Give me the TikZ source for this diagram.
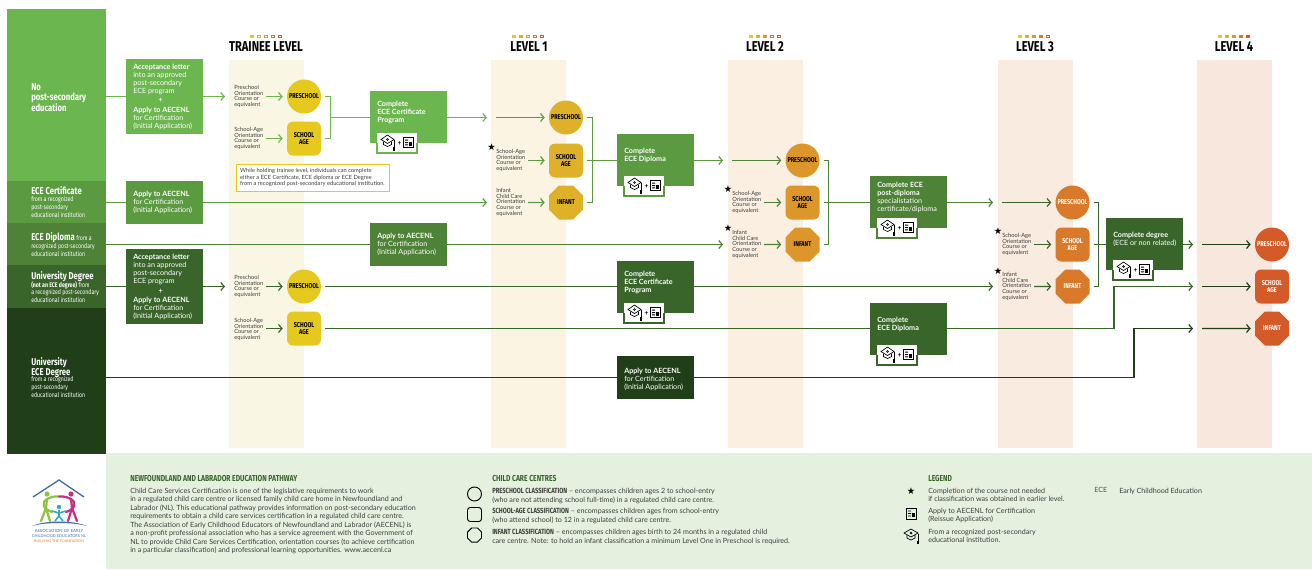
\documentclass[tikz,border=0pt]{standalone}
\usepackage{fontspec}
\setmainfont{Lato}
\newfontfamily\cond[FakeStretch=0.78]{Fira Sans}
\newfontfamily\sym{DejaVu Sans}
\usetikzlibrary{arrows.meta,shapes.geometric}
\definecolor{rowa}{HTML}{6CB64F}
\definecolor{rowb}{HTML}{5C9A42}
\definecolor{rowc}{HTML}{4E8236}
\definecolor{rowd}{HTML}{3A652A}
\definecolor{rowe}{HTML}{203F18}
\definecolor{lvt}{HTML}{E5C91F}
\definecolor{lva}{HTML}{DFB128}
\definecolor{lvb}{HTML}{DC9629}
\definecolor{lvc}{HTML}{D97A2B}
\definecolor{lvd}{HTML}{D45A28}
\definecolor{bdt}{HTML}{F9F6E3}
\definecolor{bda}{HTML}{FBF4E3}
\definecolor{bdb}{HTML}{FAEFE1}
\definecolor{bdc}{HTML}{F9EBDF}
\definecolor{bdd}{HTML}{F8E7DC}
\definecolor{foot}{HTML}{E5F0DF}
\definecolor{inkgrey}{HTML}{3E3E3E}
\definecolor{logob}{HTML}{3F6FA8}
\definecolor{logog}{HTML}{8CC63F}
\definecolor{logop}{HTML}{C8317F}
\definecolor{logoc}{HTML}{35A7C4}
\newcommand\rowbox[6]{\node[rect,fill=#6,minimum width={(#4-#2)*0.75pt},minimum height={(#5-#3)*0.75pt}] (#1) at ({(#2+#4)/2},{(#3+#5)/2}) {};}
\newcommand\lvhead[3]{\node[title] (#1) at (#2,47) {#3};}
\newcommand\lvdots[2]{%
 \foreach \i/\cc in {0/lvt,1/lva,2/lvb,3/lvc,4/lvd}{
  \pgfmathtruncatemacro\ff{\i<#2 ? 1 : 0}
  \ifnum\ff=1 \fill[\cc] ({#1+\i*7-1.7},34.8) rectangle ++(3.4,3.4);
  \else \draw[\cc,line width=.7pt,fill=white] ({#1+\i*7-1.3},35.2) rectangle ++(2.6,2.6);\fi}}
\newcommand\capdoc[2]{%
 \begin{scope}[shift={(#1,#2)}]
 \fill[white] (-20,-10) rectangle (20,10);
 \draw[line width=.5pt] (-16,-3.5) -- (-9.5,-8) -- (-3,-3.5) -- (-9.5,.5) -- cycle;
 \draw[line width=.5pt] (-13.5,-1.5) -- (-13.5,1.5) -- (-9.5,3.5) -- (-5.5,1.5) -- (-5.5,-1.5);
 \draw[line width=.5pt] (-9.5,-3.5) circle (1);
 \draw[line width=.6pt] (-3,-3) -- (-3,4);
 \fill (-4.2,4) rectangle (-1.8,7.5);
 \node[font=\fontsize{5}{5}\selectfont\bfseries,inner sep=0] at (2.5,.5) {+};
 \draw[line width=.7pt] (6.5,-5.5) rectangle (16,4);
 \fill (8,-3.5) rectangle (11,-2.5) (8,-1) rectangle (11,0) (8,1.3) rectangle (11,2.3);
 \fill (12,-1.5) rectangle (15,2.5);
 \end{scope}}
\tikzset{
 rect/.style={draw=none,inner sep=0,outer sep=0,rectangle},
 title/.style={font=\cond\bfseries\fontsize{10.7}{10.7}\selectfont,text=black,inner sep=0},
 wt/.style={text=white,inner sep=0,anchor=north west,align=left,font=\fontsize{5.4}{6}\selectfont},
 wsub/.style={wt,font=\cond\fontsize{5}{5.9}\selectfont},
 lhd/.style={text=white,inner sep=0,anchor=north west,align=left,font=\cond\bfseries\fontsize{7.4}{7.5}\selectfont},
 crs/.style={text=inkgrey,inner sep=0,anchor=north west,align=left,font=\fontsize{4.3}{4.3}\selectfont},
 foottx/.style={text=inkgrey,inner sep=0,anchor=north west,align=left,font=\fontsize{5.35}{6.4}\selectfont},
 foothd/.style={text=rowd,inner sep=0,anchor=north west,align=left,font=\cond\bfseries\fontsize{6.5}{6.5}\selectfont},
 lvtxt/.style={font=\cond\bfseries\fontsize{5.3}{5.5}\selectfont,text=black,align=center,inner sep=0},
 pres/.style={lvtxt,circle,minimum size=25.5pt},
 sch/.style={lvtxt,rectangle,rounded corners=4.5pt,minimum size=25.5pt},
 inf/.style={lvtxt,regular polygon,regular polygon sides=8,minimum size=27.6pt},
 conn/.style={line width=.9pt},
 tipc/.style={conn,-{Straight Barb[length=2.6pt,width=6pt,line width=.9pt]}},
 tips/.style={tipc,shorten >=3pt},
 strs/.style={font=\sym\fontsize{7}{7}\selectfont,inner sep=0,text=black},
 logot/.style={inner sep=0,text=logob,font=\fontsize{3.2}{3.4}\selectfont},
 limb/.style={line width=1.7pt,line cap=round,line join=round},
}
\begin{document}
\begin{tikzpicture}[x=0.75pt,y=-0.75pt]
\useasboundingbox (0,0) rectangle (1312,569);
\fill[white] (0,0) rectangle (1312,569);
% bands
\fill[bdt] (229,60) rectangle (304,448);
\fill[bda] (491,60) rectangle (566,448);
\fill[bdb] (728,60) rectangle (803,448);
\fill[bdc] (998,60) rectangle (1073,448);
\fill[bdd] (1197,60) rectangle (1272,448);
\fill[foot] (106,453) rectangle (1312,569);
% left rows
\rowbox{rowA}{7}{9}{106}{181}{rowa}
\rowbox{rowB}{7}{181}{106}{223}{rowb}
\rowbox{rowC}{7}{223}{106}{265}{rowc}
\rowbox{rowD}{7}{265}{106}{308}{rowd}
\rowbox{rowE}{7}{308}{106}{454}{rowe}
\node[lhd] (tA) at (31,83) {No\\post-secondary\\education};
\node[lhd] (tB) at (31,186.5) {ECE Certificate};
\node[wsub] (tBb) at (31,196.5) {from a recognized\\post-secondary\\educational institution};
\node[lhd] (tC) at (31,232.5) {ECE Diploma\,{\mdseries\fontsize{5}{5.9}\selectfont from a}};
\node[wsub] (tCb) at (31,243) {recognized post-secondary\\educational institution};
\node[lhd] (tD) at (31,271.5) {University Degree};
\node[wsub] (tDb) at (31,281) {\textbf{(not an ECE degree)} from\\a recognized post-secondary\\educational institution};
\node[lhd] (tE) at (31,357) {University\\ECE Degree};
\node[wsub] (tEb) at (31,376.5) {from a recognized\\post-secondary\\educational institution};
% process boxes
\rowbox{acca}{126}{59}{203}{134}{rowa}
\rowbox{appb}{126}{181}{203}{224}{rowb}
\rowbox{accd}{126}{249}{203}{324}{rowd}
\rowbox{cert}{370}{91}{447}{143}{rowa}
\rowbox{appc}{370}{223}{447}{266}{rowc}
\rowbox{dipl}{617}{134}{694}{186}{rowb}
\rowbox{post}{870}{176}{947}{228}{rowc}
\rowbox{degr}{1106}{218}{1183}{270}{rowd}
\rowbox{certd}{617}{261}{694}{313}{rowd}
\rowbox{dipd}{870}{303}{947}{355}{rowd}
\rowbox{appe}{617}{356}{694}{399}{rowe}
\newcommand\acctext{\textbf{Acceptance letter}\\into an approved\\post-secondary\\ECE program\\[1.2pt]\hspace*{19pt}\textbf{+}\\[1pt]\textbf{Apply to AECENL}\\for Certification\\(Initial Application)}
\node[wt] (ta) at (133,63.5) {\acctext};
\node[wt] (td) at (133,254) {\acctext};
\newcommand\apptext{\textbf{Apply to AECENL}\\for Certification\\(Initial Application)}
\node[wt] (tb) at (133,191) {\apptext};
\node[wt] (tc) at (377,233) {\apptext};
\node[wt] (te) at (624,367.5) {\apptext};
\node[wt] (tcert) at (377,101) {\textbf{Complete}\\\textbf{ECE Certificate}\\\textbf{Program}};
\node[wt] (tdipl) at (624,148) {\textbf{Complete}\\\textbf{ECE Diploma}};
\node[wt] (tpost) at (877,182) {\textbf{Complete ECE}\\\textbf{post-diploma}\\specialistation\\certificate/diploma};
\node[wt] (tdegr) at (1113,232) {\textbf{Complete degree}\\(ECE or non related)};
\node[wt] (tcertd) at (624,271) {\textbf{Complete}\\\textbf{ECE Certificate}\\\textbf{Program}};
\node[wt] (tdipe) at (877,317) {\textbf{Complete}\\\textbf{ECE Diploma}};
% icon plates
\foreach \x/\y/\cc in {397/143/rowa,644/186/rowb,897/228/rowc,1133/270/rowd,644/313/rowd,897/355/rowd}{
 \capdoc{\x}{\y}
 \draw[\cc,line width=.8pt] (\x-20,\y) -- (\x-20,\y+10) -- (\x+20,\y+10) -- (\x+20,\y);
}
% titles
\lvhead{hT}{266}{TRAINEE LEVEL}
\lvhead{hA}{529}{LEVEL 1}
\lvhead{hB}{765}{LEVEL 2}
\lvhead{hC}{1035}{LEVEL 3}
\lvhead{hD}{1234}{LEVEL 4}
\lvdots{252}{1}
\lvdots{514}{2}
\lvdots{751}{3}
\lvdots{1020}{4}
\lvdots{1220}{5}
% level shapes
\node[pres,fill=lvt] (tp) at (304,96.5) {PRESCHOOL};
\node[sch,fill=lvt] (ts) at (304,138.5) {SCHOOL\\AGE};
\node[pres,fill=lvt] (tp2) at (304,286.5) {PRESCHOOL};
\node[sch,fill=lvt] (ts2) at (304,328.5) {SCHOOL\\AGE};
\node[pres,fill=lva] (ap) at (566,117.5) {PRESCHOOL};
\node[sch,fill=lva] (as) at (566,160.5) {SCHOOL\\AGE};
\node[inf,fill=lva] (ai) at (566,202.5) {INFANT};
\node[pres,fill=lvb] (bp) at (802.5,160.5) {PRESCHOOL};
\node[sch,fill=lvb] (bs) at (802.5,202.5) {SCHOOL\\AGE};
\node[inf,fill=lvb] (bi) at (802.5,244.5) {INFANT};
\node[pres,fill=lvc,text=white] (cp) at (1072.5,202.5) {PRESCHOOL};
\node[sch,fill=lvc,text=white] (cs) at (1072.5,244.5) {SCHOOL\\AGE};
\node[inf,fill=lvc,text=white] (ci) at (1072.5,286.5) {INFANT};
\node[pres,fill=lvd,text=white] (dp) at (1272,244.5) {PRESCHOOL};
\node[sch,fill=lvd,text=white] (ds) at (1272,286.5) {SCHOOL\\AGE};
\node[inf,fill=lvd,text=white] (di) at (1272,328.5) {INFANT};
% course text
\newcommand\crsP{Preschool\\Orientation\\Course or\\equivalent}
\newcommand\crsS{School-Age\\Orientation\\Course or\\equivalent}
\newcommand\crsI{Infant\\Child Care\\Orientation\\Course or\\equivalent}
\node[crs] (c1) at (234,85) {\crsP};
\node[crs] (c2) at (234,127) {\crsS};
\node[crs] (c3) at (234,275) {\crsP};
\node[crs] (c4) at (234,318) {\crsS};
\node[crs] (c5) at (496,149) {\crsS};
\node[crs] (c6) at (496,188) {\crsI};
\node[crs] (c7) at (732,191) {\crsS};
\node[crs] (c8) at (732,230) {\crsI};
\node[crs] (c9) at (1002,233) {\crsS};
\node[crs] (c10) at (1002,272) {\crsI};
\node[strs] (s1) at (491.5,147) {★};
\node[strs] (s2) at (728,189) {★};
\node[strs] (s3) at (728,228) {★};
\node[strs] (s4) at (998,231) {★};
\node[strs] (s5) at (998,271) {★};
% note
\node[draw=lvt,line width=.7pt,fill=white,inner sep=0,minimum width=153*.75pt,minimum height=27*.75pt,text=inkgrey,align=left,font=\fontsize{4.3}{5}\selectfont] (note) at (312.5,177.5) {While holding trainee level, individuals can complete\\either a ECE Certificate, ECE diploma or ECE Degree\\from a recognized post-secondary educational institution.};
% free ends
\coordinate (e1) at (225,96.5);
\coordinate (f1) at (266,96.5);
\coordinate (f2) at (266,138.5);
\coordinate (e3) at (225,286.5);
\coordinate (f3) at (266,286.5);
\coordinate (f4) at (266,328.5);
\coordinate (e5) at (487,117.5);
\coordinate (f5) at (496,117.5);
\coordinate (f6) at (528,160.5);
\coordinate (e7) at (487,202.5);
\coordinate (f7) at (528,202.5);
\coordinate (e8) at (723,160.5);
\coordinate (f8) at (732,160.5);
\coordinate (f9) at (764,202.5);
\coordinate (e10) at (723,244.5);
\coordinate (f10) at (764,244.5);
\coordinate (e11) at (993,202.5);
\coordinate (f11) at (1002,202.5);
\coordinate (f12) at (1034,244.5);
\coordinate (e13) at (993,286.5);
\coordinate (f13) at (1034,286.5);
\coordinate (e14) at (1193,244.5);
\coordinate (f14) at (1202,244.5);
\coordinate (e15) at (1193,286.5);
\coordinate (f15) at (1202,286.5);
\coordinate (e16) at (1193,328.5);
\coordinate (f16) at (1202,328.5);
\coordinate (tm) at (330,117.5);
% row A
\draw[conn,rowa] (rowA.east |- e1) -- (acca.west |- e1);
\draw[tipc,rowa] (acca.east |- e1) -- (e1);
\draw[tips,rowa] (f1) -- (tp.west);
\draw[tips,rowa] (f2) -- (ts.west);
\draw[conn,rowa] ([xshift=3pt]tp.east) -- ++(5,0) |- ([xshift=3pt]ts.east);
\draw[conn,rowa] (tm) -- (cert.west |- e5);
\draw[tipc,rowa] (cert.east |- e5) -- (e5);
\draw[tips,rowb] (f5) -- (ap.west);
\draw[tips,rowb] (f6) -- (as.west);
\draw[tips,rowb] (f7) -- (ai.west);
\draw[conn,rowb] ([xshift=3pt]ap.east) -- ++(5,0) |- ([xshift=3pt]ai.east);
\draw[conn,rowb] ([xshift=3pt]as.east) -- (dipl.west |- as);
\draw[tipc,rowb] (dipl.east |- e8) -- (e8);
\draw[tips,rowc] (f8) -- (bp.west);
\draw[tips,rowc] (f9) -- (bs.west);
\draw[tips,rowc] (f10) -- (bi.west);
\draw[conn,rowc] ([xshift=3pt]bp.east) -- ++(5,0) |- ([xshift=3pt]bi.east);
\draw[conn,rowc] ([xshift=3pt]bs.east) -- (post.west |- bs);
\draw[tipc,rowc] (post.east |- e11) -- (e11);
\draw[tips,rowd] (f11) -- (cp.west);
\draw[tips,rowd] (f12) -- (cs.west);
\draw[tips,rowd] (f13) -- (ci.west);
\draw[conn,rowd] ([xshift=3pt]cp.east) -- ++(5,0) |- ([xshift=3pt]ci.east);
\draw[conn,rowd] ([xshift=3pt]cs.east) -- (degr.west |- cs);
\draw[tipc,rowd] (degr.east |- e14) -- (e14);
\draw[tips,rowe] (f14) -- (dp.west);
\draw[tips,rowe] (f15) -- (ds.west);
\draw[tips,rowe] (f16) -- (di.west);
% row B
\draw[conn,rowb] (rowB.east |- e7) -- (appb.west |- e7);
\draw[tipc,rowb] (appb.east |- e7) -- (e7);
% row C
\draw[conn,rowc] (rowC.east |- e10) -- (appc.west |- e10);
\draw[tipc,rowc] (appc.east |- e10) -- (e10);
% row D
\draw[conn,rowd] (rowD.east |- e3) -- (accd.west |- e3);
\draw[tipc,rowd] (accd.east |- e3) -- (e3);
\draw[tips,rowd] (f3) -- (tp2.west);
\draw[tips,rowd] (f4) -- (ts2.west);
\draw[conn,rowd] ([xshift=3pt]tp2.east) -- (certd.west |- tp2);
\draw[tipc,rowd] (certd.east |- e13) -- (e13);
\draw[conn,rowd] ([xshift=3pt]ts2.east) -- (dipd.west |- ts2);
\draw[tipc,rowd] (dipd.east |- ts2) -| (1114,286.5) -- (e15);
% row E
\draw[conn,rowe] (rowE.east |- appe) -- (appe.west);
\draw[tipc,rowe] (appe.east) -| (1134,328.5) -- (e16);
% logo
\draw[logob,line width=1pt] (33,497) -- (59,480) -- (84,497);
\fill[logog] (47,494) circle (2.6);
\fill[logop] (71,494) circle (2.6);
\fill[logoc] (59,507) circle (2.2);
\draw[logog,limb] (47,499) .. controls (51,497) and (55,496) .. (59,496.5);
\draw[logop,limb] (71,499) .. controls (67,497) and (63,496) .. (59,496.5);
\draw[logog,limb] (47,499) -- (46,508) -- (41,521);
\draw[logog,limb] (46,508) -- (50,521);
\draw[logog,limb] (47,499) .. controls (41,503) and (43,509) .. (52,512);
\draw[logop,limb] (71,499) -- (72,508) -- (77,521);
\draw[logop,limb] (72,508) -- (68,521);
\draw[logop,limb] (71,499) .. controls (77,503) and (75,509) .. (66,512);
\draw[logoc,line width=1.2pt,line join=round] (52,511) -- (59,513) -- (66,511) (59,510) -- (59,516) -- (55,521) (59,516) -- (63,521);
\fill[logob] (32,526) .. controls (45,520) and (73,520) .. (87,526) .. controls (73,522) and (45,522) .. (32,526) -- cycle;
\node[logot] (lg1) at (59,531) {ASSOCIATION OF EARLY};
\node[logot,font=\fontsize{2.95}{3.4}\selectfont] (lg2) at (59,536) {CHILDHOOD EDUCATORS NL};
\node[logot,text=lvc,font=\fontsize{2.7}{3}\selectfont] (lg3) at (59,541.5) {BUILDING THE FOUNDATION};
% footer
\node[foothd] (fh1) at (130,475.5) {NEWFOUNDLAND AND LABRADOR EDUCATION PATHWAY};
\node[foottx] (ft1) at (130,487.5) {Child Care Services Certification is one of the legislative requirements to work\\in a regulated child care centre or licensed family child care home in Newfoundland and\\Labrador (NL). This educational pathway provides information on post-secondary education\\requirements to obtain a child care services certification in a regulated child care centre.\\The Association of Early Childhood Educators of Newfoundland and Labrador (AECENL) is\\a non-profit professional association who has a service agreement with the Government of\\NL to provide Child Care Services Certification, orientation courses (to achieve certification\\in a particular classification) and professional learning opportunities. www.aecenl.ca};
\node[foothd] (fh2) at (492,475.5) {CHILD CARE CENTRES};
\node[foottx] (ft2) at (492,488) {{\cond\bfseries\fontsize{5.6}{6.4}\selectfont PRESCHOOL CLASSIFICATION} -- encompasses children ages 2 to school-entry\\(who are not attending school full-time) in a regulated child care centre.};
\node[foottx] (ft3) at (492,508) {{\cond\bfseries\fontsize{5.6}{6.4}\selectfont SCHOOL-AGE CLASSIFICATION} -- encompasses children ages from  school-entry\\(who attend school) to 12 in a regulated child care centre.};
\node[foottx] (ft4) at (492,529) {{\cond\bfseries\fontsize{5.6}{6.4}\selectfont INFANT CLASSIFICATION} -- encompasses children ages birth to 24 months in a regulated child\\care centre. Note: to hold an infant classification a minimum Level One in Preschool is required.};
\node[draw=black,line width=.7pt,circle,minimum size=10.5pt,inner sep=0] (k1) at (474.5,494) {};
\node[draw=black,line width=.7pt,rounded corners=2pt,minimum size=10.5pt,inner sep=0] (k2) at (474.5,514.5) {};
\node[draw=black,line width=.7pt,regular polygon,regular polygon sides=8,minimum size=11.4pt,inner sep=0] (k3) at (474.5,535) {};
\node[foothd] (fh3) at (928,475.5) {LEGEND};
\node[foottx] (ft5) at (928,487.5) {Completion of the course not needed\\if classification was obtained in earlier level.};
\node[foottx] (ft6) at (928,507.5) {Apply to AECENL for Certification\\(Reissue Application)};
\node[foottx] (ft7) at (928,528.5) {From a recognized post-secondary\\educational institution.};
\node[foottx,text=rowd] (ft8) at (1094,487.5) {ECE};
\node[foottx] (ft9) at (1119,487.5) {Early Childhood Education};
\node[strs] (s6) at (911,491) {★};
\draw[line width=.6pt] (906.5,508) rectangle (916,519);
\fill (908,510.5) rectangle (911,511.3) (908,513) rectangle (911,513.8) (908,515.5) rectangle (911,516.3);
\fill (912,513) rectangle (915,517);
\begin{scope}[shift={(911,536)}]
\draw[line width=.5pt] (-7,-3) -- (0,-7) -- (7,-3) -- (0,1) -- cycle;
\draw[line width=.5pt] (-4,-1) -- (-4,2) -- (0,4) -- (4,2) -- (4,-1);
\draw[line width=.5pt] (0,-3) circle (1);
\draw[line width=.6pt] (7,-2.5) -- (7,5);
\fill (6,5) rectangle (8.2,8);
\end{scope}
\end{tikzpicture}
\end{document}
